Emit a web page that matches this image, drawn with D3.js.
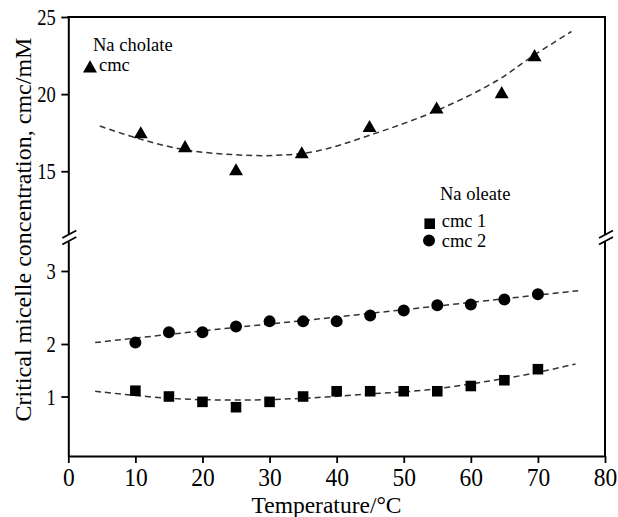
<!DOCTYPE html>
<html>
<head>
<meta charset="utf-8">
<script src="https://cdn.jsdelivr.net/npm/d3@7/dist/d3.min.js"></script>
<style>
  body { margin: 0; background: #fff; }
  svg text { font-family: "Liberation Serif", "Times New Roman", serif; fill: #000; }
</style>
</head>
<body>
<svg id="chart" width="618" height="517"></svg>
<script>
// Na cholate (upper part of the broken axis)
var cholateT   = [10.8, 17.4, 25, 34.8, 44.9, 54.9, 64.6, 69.5];
var cholateCmc = [17.4, 16.5, 15.0, 16.1, 17.8, 19.0, 20.0, 22.4];
var cholateFitT   = [4.7, 10.6, 17.3, 24.4, 31, 37, 44.7, 55, 64, 69, 75];
var cholateFitCmc = [17.93, 17.1, 16.4, 16.08, 16.03, 16.3, 17.3, 18.95, 20.9, 22.4, 24.06];

// Na oleate (lower part)
var oleateT    = [10, 15, 20, 25, 30, 35, 40, 45, 50, 55, 60, 65, 70];
var oleateCmc1 = [1.11, 1.0, 0.91, 0.82, 0.91, 1.0, 1.1, 1.1, 1.1, 1.1, 1.2, 1.31, 1.52];
var oleateCmc2 = [2.02, 2.16, 2.16, 2.24, 2.31, 2.31, 2.31, 2.39, 2.46, 2.53, 2.54, 2.61, 2.68];
var cmc1FitT = [4, 15, 25, 35, 45, 53, 63, 70, 75.6];
var cmc1Fit  = [1.1, 0.97, 0.94, 0.97, 1.05, 1.12, 1.3, 1.46, 1.62];
var cmc2FitT = [4, 20, 35, 50, 65, 76];
var cmc2Fit  = [2.02, 2.18, 2.32, 2.47, 2.62, 2.73];

var xTicks = [0, 10, 20, 30, 40, 50, 60, 70, 80];
var yTicksTop = [15, 20, 25];
var yTicksBottom = [1, 2, 3];

var svg = d3.select("#chart");

var plotLeft = 68.3, plotRight = 605, plotTop = 17, plotBottom = 456;
var breakHi = 234.5, breakLo = 241;

var x = d3.scaleLinear().domain([0, 80]).range([plotLeft, plotRight]);
var yTop = d3.scaleLinear().domain([10.9, 25]).range([breakHi, plotTop]);
// the lower scale of the original is not quite even, so follow its ticks
var yBot = d3.scaleLinear().domain([0, 1, 2, 3, 3.41]).range([plotBottom, 396.5, 344, 271, breakLo]);

function zip(a, b) { return a.map(function(d, i) { return [d, b[i]]; }); }

// axes
var gx = svg.append("g").attr("transform", "translate(0," + plotBottom + ")")
  .call(d3.axisBottom(x).tickValues(xTicks).tickSize(7).tickSizeOuter(0).tickFormat(d3.format("d")));
gx.selectAll("text").attr("dy", null).attr("y", 30.5 / 1.05)
  .attr("transform", "scale(1,1.05)").style("font-size", "23.5px");

var gyt = svg.append("g").attr("transform", "translate(" + plotLeft + ",0)")
  .call(d3.axisLeft(yTop).tickValues(yTicksTop).tickSize(7).tickSizeOuter(0).tickFormat(d3.format("d")));
var gyb = svg.append("g").attr("transform", "translate(" + plotLeft + ",0)")
  .call(d3.axisLeft(yBot).tickValues(yTicksBottom).tickSize(7).tickSizeOuter(0).tickFormat(d3.format("d")));
[gyt, gyb].forEach(function(g) {
  // the original's y labels look a little stretched upright
  g.selectAll("text").attr("x", -12.5).attr("dy", "0.34em")
    .attr("transform", "scale(1,1.2)").style("font-size", "18.5px");
});
svg.selectAll(".domain").attr("stroke", "#000").attr("stroke-width", 2);
svg.selectAll(".tick line").attr("stroke", "#000").attr("stroke-width", 1.8);
svg.selectAll(".tick text").attr("fill", "#000");

// frame: top and right
svg.append("line").attr("x1", plotLeft - 1).attr("x2", plotRight + 1).attr("y1", plotTop).attr("y2", plotTop)
  .attr("stroke", "#000").attr("stroke-width", 2);
svg.append("line").attr("x1", plotRight).attr("x2", plotRight).attr("y1", plotTop).attr("y2", breakHi)
  .attr("stroke", "#000").attr("stroke-width", 2);
svg.append("line").attr("x1", plotRight).attr("x2", plotRight).attr("y1", breakLo).attr("y2", plotBottom)
  .attr("stroke", "#000").attr("stroke-width", 2);

// break marks
[plotLeft, plotRight].forEach(function(px) {
  [breakHi, breakLo].forEach(function(py) {
    svg.append("line")
      .attr("x1", px - 6).attr("y1", py + 3.5)
      .attr("x2", px + 8).attr("y2", py - 4)
      .attr("stroke", "#000").attr("stroke-width", 1.8);
  });
});

// fitted dashed curves
var fits = [
  { pts: zip(cholateFitT, cholateFitCmc), y: yTop },
  { pts: zip(cmc1FitT, cmc1Fit), y: yBot },
  { pts: zip(cmc2FitT, cmc2Fit), y: yBot }
];
fits.forEach(function(f) {
  var line = d3.line().curve(d3.curveCatmullRom)
    .x(function(d) { return x(d[0]); })
    .y(function(d) { return f.y(d[1]); });
  svg.append("path").attr("d", line(f.pts))
    .attr("fill", "none").attr("stroke", "#333").attr("stroke-width", 1.5)
    .attr("stroke-dasharray", "6,4");
});

// markers
var tri = d3.symbol().type(d3.symbolTriangle).size(84);
var sq = d3.symbol().type(d3.symbolSquare).size(112);
var circ = d3.symbol().type(d3.symbolCircle).size(113);

svg.append("g").selectAll("path").data(zip(cholateT, cholateCmc)).enter().append("path")
  .attr("d", tri)
  .attr("transform", function(d) { return "translate(" + x(d[0]) + "," + yTop(d[1]) + ")"; });
svg.append("g").selectAll("path").data(zip(oleateT, oleateCmc1)).enter().append("path")
  .attr("d", sq)
  .attr("transform", function(d) { return "translate(" + x(d[0]) + "," + yBot(d[1]) + ")"; });
svg.append("g").selectAll("path").data(zip(oleateT, oleateCmc2)).enter().append("path")
  .attr("d", circ)
  .attr("transform", function(d) { return "translate(" + x(d[0]) + "," + yBot(d[1]) + ")"; });

// legends
svg.append("text").attr("x", 93).attr("y", 50.7).style("font-size", "18.5px").text("Na cholate");
svg.append("path").attr("d", tri).attr("transform", "translate(90,68.4)");
svg.append("text").attr("x", 99).attr("y", 70.7).style("font-size", "18.5px").text("cmc");

svg.append("text").attr("x", 440).attr("y", 200).style("font-size", "18.5px").text("Na oleate");
svg.append("path").attr("d", sq).attr("transform", "translate(429.7,223.7)");
svg.append("text").attr("x", 441.7).attr("y", 226.7).style("font-size", "18.5px").text("cmc 1");
svg.append("path").attr("d", circ).attr("transform", "translate(429,240.5)");
svg.append("text").attr("x", 441.7).attr("y", 247.3).style("font-size", "18.5px").text("cmc 2");

// axis titles
svg.append("text").attr("x", 326.5).attr("y", 513).attr("text-anchor", "middle")
  .style("font-size", "23.5px").text("Temperature/\u00B0C");
svg.append("text").attr("transform", "translate(31,229.5) rotate(-90)").attr("text-anchor", "middle")
  .style("font-size", "24px").text("Critical micelle concentration, cmc/mM");
</script>
</body>
</html>
